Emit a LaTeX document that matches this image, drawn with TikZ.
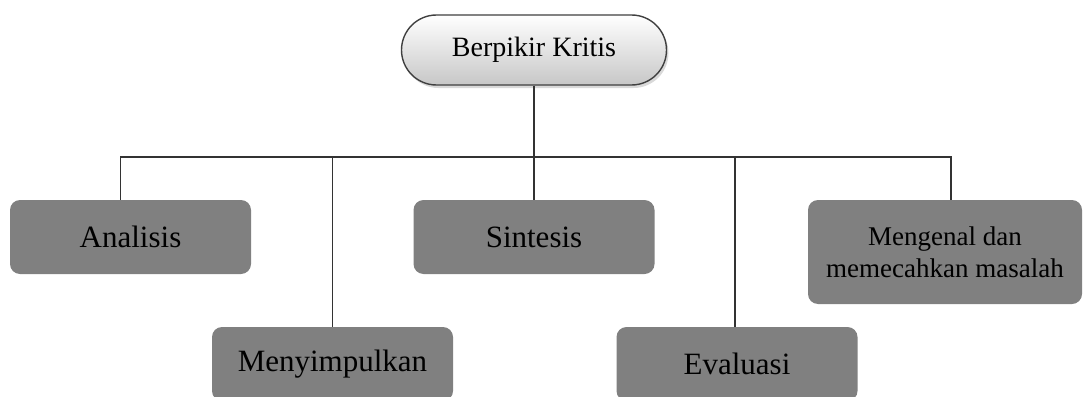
\documentclass[tikz,border=0pt]{standalone}
\usepackage{fontspec}
\setmainfont{Liberation Serif}
\usetikzlibrary{shapes.misc,shadows}

\begin{document}
\begin{tikzpicture}[x=1pt,y=-1pt,
  kotak/.style={rectangle,rounded corners=10pt,fill=black!50,minimum width=241pt,minimum height=74pt,inner sep=0pt,align=center,font=\fontsize{31}{36}\selectfont},
  garis/.style={line width=1.2pt,color=black!80}]
\clip (0,0) rectangle (1083,396);
\node [rounded rectangle,draw=black!75,line width=1.4pt,top color=white,bottom color=black!22,minimum width=265pt,minimum height=70pt,inner sep=0pt,font=\fontsize{28}{32}\selectfont,drop shadow={opacity=0.3,shadow xshift=2pt,shadow yshift=-3pt}] (bk) at (534,50) {Berpikir Kritis};
\node [kotak] (an) at (130.5,237) {Analisis};
\node [kotak] (sn) at (534,237) {Sintesis};
\node [kotak,minimum width=274pt,minimum height=104pt,font=\fontsize{27}{32}\selectfont] (mm) at (945,252) {Mengenal dan\\memecahkan masalah};
\node [kotak] (my) at (332.5,364) {Menyimpulkan};
\node [kotak] (ev) at (737,364) {Evaluasi};
\coordinate (bus) at (534,157);
\draw [garis] (bk.south) -- (bus);
\draw [garis] ([xshift=-10pt]an.north) |- (bus) -| ([xshift=6pt]mm.north);
\draw [garis] (sn.north) -- (sn.north |- bus);
\draw [garis] (my.north) -- (my.north |- bus);
\draw [garis] ([xshift=-2pt]ev.north) -- ([xshift=-2pt]ev.north |- bus);
\end{tikzpicture}
\end{document}
